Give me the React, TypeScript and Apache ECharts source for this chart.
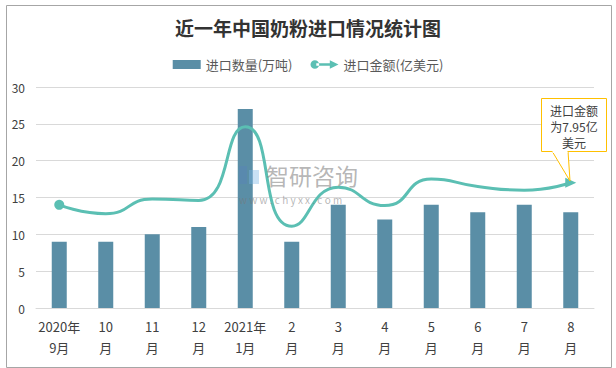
import React, { useEffect, useRef } from "react";
import * as echarts from "echarts";

const categories = ["2020年\n9月", "10\n月", "11\n月", "12\n月", "2021年\n1月", "2\n月", "3\n月", "4\n月", "5\n月", "6\n月", "7\n月", "8\n月"];
const volume = [9, 9, 10, 11, 27, 9, 14, 12, 14, 13, 14, 13];
const amount = [14.0, 12.8, 14.8, 14.6, 24.6, 11.1, 16.4, 13.9, 17.5, 16.5, 16.0, 17.0];
const yTicks = [0, 5, 10, 15, 20, 25, 30];
const titleText = "近一年中国奶粉进口情况统计图";
const barName = "进口数量(万吨)";
const lineName = "进口金额(亿美元)";
const calloutText = "进口金额\n为7.95亿\n美元";

const BAR_COLOR = "#5A8EA6";
const LINE_COLOR = "#5BBFB3";
const FONT = "'Noto Sans CJK SC', 'Noto Sans', sans-serif";

const lineIcon =
  "path://M0,5a4.5,4.5 0 1,0 9,0a4.5,4.5 0 1,0 -9,0z M6,3.6h16v2.8h-16z M20,0.5L29,5L20,9.5z";

export default function App() {
  const ref = useRef<HTMLDivElement>(null);
  useEffect(() => {
    if (!ref.current) return;
    const chart = echarts.init(ref.current, undefined, { renderer: "svg" });
    const lineData = amount.map((v, i) => {
      if (i === 0) return { value: v, symbol: "circle", symbolSize: 10 };
      if (i === amount.length - 1)
        return { value: v, symbol: "triangle", symbolSize: [10, 11], symbolRotate: -90 };
      return { value: v, symbol: "none" };
    });
    chart.setOption({
      animation: false,
      backgroundColor: "#fff",
      title: {
        text: titleText,
        left: "center",
        top: 13,
        textStyle: { fontFamily: FONT, fontSize: 19, fontWeight: "bold", color: "#333" },
      },
      legend: {
        top: 53,
        left: "center",
        itemWidth: 28,
        itemHeight: 9,
        itemGap: 18,
        textStyle: { fontFamily: FONT, fontSize: 13, color: "#595959" },
        data: [
          { name: barName, icon: "rect" },
          { name: lineName, icon: lineIcon },
        ],
      },
      grid: { left: 36, right: 22, top: 87, bottom: 60 },
      xAxis: {
        type: "category",
        data: categories,
        axisTick: { show: false },
        axisLine: { lineStyle: { color: "#D9D9D9" } },
        axisLabel: {
          fontFamily: FONT,
          fontSize: 13,
          color: "#404040",
          lineHeight: 21,
          margin: 8,
          interval: 0,
        },
      },
      yAxis: {
        type: "value",
        min: 0,
        max: yTicks[yTicks.length - 1],
        interval: 5,
        axisLine: { show: false },
        axisTick: { show: false },
        splitLine: { lineStyle: { color: "#D9D9D9" } },
        axisLabel: { fontFamily: FONT, fontSize: 12, color: "#404040", margin: 11 },
      },
      series: [
        {
          name: barName,
          type: "bar",
          data: volume,
          barWidth: 15,
          itemStyle: { color: BAR_COLOR },
        },
        {
          name: lineName,
          type: "line",
          data: lineData,
          smooth: 0.55,
          showSymbol: true,
          itemStyle: { color: LINE_COLOR },
          lineStyle: { color: LINE_COLOR, width: 3 },
          z: 3,
        },
      ],
      graphic: [
        {
          type: "rect",
          left: 4,
          top: 3,
          shape: { width: 605, height: 362 },
          style: { fill: "none", stroke: "#A6A6A6", lineWidth: 1 },
          silent: true,
          z: -1,
        },
        {
          type: "polygon",
          shape: { points: [[552, 151], [568, 151], [570, 181]] },
          style: { fill: "#fff", stroke: "#FFC000", lineWidth: 1 },
          z: 10,
        },
        {
          type: "rect",
          shape: { x: 541.5, y: 98.5, width: 65, height: 53 },
          style: { fill: "#fff", stroke: "#FFC000", lineWidth: 1 },
          z: 10,
        },
        {
          type: "rect",
          shape: { x: 552.5, y: 149, width: 15, height: 4 },
          style: { fill: "#fff" },
          z: 11,
        },
        {
          type: "text",
          x: 574,
          y: 102,
          style: {
            text: calloutText,
            fontFamily: FONT,
            fontSize: 12,
            lineHeight: 16,
            fill: "#404040",
            align: "center",
            verticalAlign: "top",
          },
          z: 12,
        },
        {
          type: "rect",
          shape: { x: 239, y: 166, width: 8, height: 18 },
          style: { fill: "rgba(90,130,190,0.35)" },
          z: 20,
        },
        {
          type: "rect",
          shape: { x: 249, y: 170, width: 10, height: 14 },
          style: { fill: "rgba(120,180,230,0.4)" },
          z: 20,
        },
        {
          type: "text",
          x: 266,
          y: 163,
          style: {
            text: "智研咨询",
            fontFamily: FONT,
            fontSize: 23,
            lineHeight: 24,
            fill: "rgba(120,120,120,0.55)",
          },
          z: 20,
        },
        {
          type: "text",
          x: 239,
          y: 194,
          style: {
            text: "w w w . c h y x x . c o m",
            fontFamily: FONT,
            fontSize: 10,
            lineHeight: 11,
            fill: "rgba(120,120,120,0.55)",
          },
          z: 20,
        },
      ],
    });
    return () => chart.dispose();
  }, []);
  return (
    <div
      ref={ref}
      style={{ position: "absolute", left: 0, top: 0, width: 616, height: 368 }}
    />
  );
}
